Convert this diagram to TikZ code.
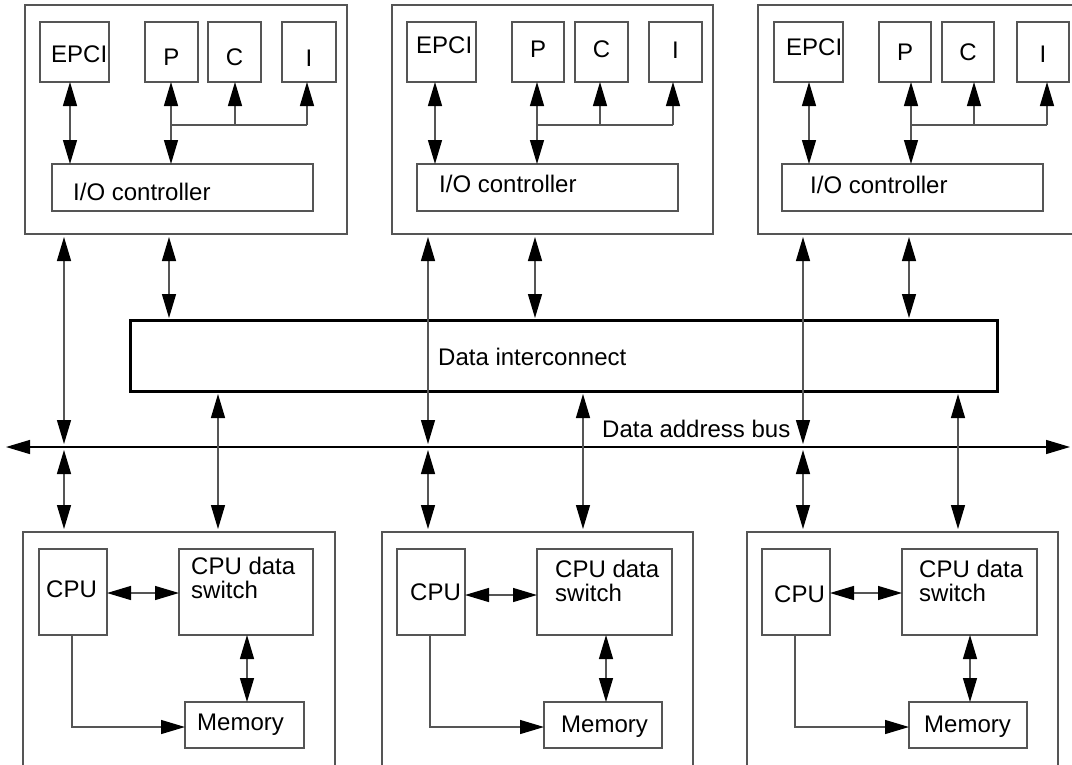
\documentclass[tikz,border=0pt]{standalone}
\usepackage{fontspec}
\setmainfont{Liberation Sans}
\usetikzlibrary{arrows.meta}
\definecolor{ln}{RGB}{85,85,85}
\newcommand\mybox[5]{\node[box, minimum width=#4pt-#2pt, minimum height=#5pt-#3pt] (#1) at (#2,#3) {};}
\begin{document}
\begin{tikzpicture}[x=1pt,y=-1pt,
  box/.style={draw=ln, line width=1.3pt, inner sep=0pt, outer sep=0pt, anchor=north west},
  txt/.style={inner sep=0pt, font=\fontsize{24}{25}\selectfont},
  tip/.tip={Triangle[length=24pt,width=14pt,color=black]},
  conn/.style={draw=ln, line width=1.3pt},
  dbl/.style={conn, tip-tip},
  one/.style={conn, -tip},
]
\useasboundingbox (0,0) rectangle (1072,764);
\clip (0,0) rectangle (1072,764);

% ---------------- top unit 1
\mybox{T1}{25}{5}{347}{234}
\mybox{E1}{40}{22}{109}{82}
\mybox{P1}{145}{22}{198}{82}
\mybox{C1}{208}{22}{261}{82}
\mybox{I1}{282}{22}{336}{82}
\mybox{IO1}{52}{164}{313}{211}
\node[txt, anchor=base west] (tE1) at (51,62) {EPCI};
\node[txt, anchor=base] (tP1) at (171.5,65) {P};
\node[txt, anchor=base] (tC1) at (234.5,65) {C};
\node[txt, anchor=base] (tI1) at (309,66) {I};
\node[txt, anchor=base west] (tIO1) at (73,200) {I/O controller};
\draw[dbl] (E1.south -| 70,0) -- (IO1.north -| 70,0);
\draw[dbl] (P1.south -| 171,0) -- (IO1.north -| 171,0);
\coordinate (J1) at (171,125);
\coordinate (K1) at (307,125);
\draw[conn] (J1) -- (K1);
\draw[one] (J1 -| 235,0) -- (C1.south -| 235,0);
\draw[one] (K1) -- (I1.south -| K1);

% ---------------- top unit 2
\mybox{T2}{392}{5}{713}{234}
\mybox{E2}{407}{22}{476}{82}
\mybox{P2}{512}{22}{564}{82}
\mybox{C2}{575}{22}{628}{82}
\mybox{I2}{649}{22}{702}{82}
\mybox{IO2}{417}{164}{678}{211}
\node[txt, anchor=base west] (tE2) at (416,53) {EPCI};
\node[txt, anchor=base] (tP2) at (538,57) {P};
\node[txt, anchor=base] (tC2) at (601.5,57) {C};
\node[txt, anchor=base] (tI2) at (675.5,58) {I};
\node[txt, anchor=base west] (tIO2) at (439,192) {I/O controller};
\draw[dbl] (E2.south -| 435,0) -- (IO2.north -| 435,0);
\draw[dbl] (P2.south -| 537,0) -- (IO2.north -| 537,0);
\coordinate (J2) at (537,125);
\coordinate (K2) at (673,125);
\draw[conn] (J2) -- (K2);
\draw[one] (J2 -| 600,0) -- (C2.south -| 600,0);
\draw[one] (K2) -- (I2.south -| K2);

% ---------------- top unit 3
\mybox{T3}{758}{5}{1100}{234}
\mybox{E3}{774}{22}{843}{82}
\mybox{P3}{879}{22}{931}{82}
\mybox{C3}{942}{22}{994}{82}
\mybox{I3}{1017}{22}{1069}{82}
\mybox{IO3}{782}{164}{1043}{211}
\node[txt, anchor=base west] (tE3) at (786,55) {EPCI};
\node[txt, anchor=base] (tP3) at (905,60) {P};
\node[txt, anchor=base] (tC3) at (968,60) {C};
\node[txt, anchor=base] (tI3) at (1043,62) {I};
\node[txt, anchor=base west] (tIO3) at (810,193) {I/O controller};
\draw[dbl] (E3.south -| 809,0) -- (IO3.north -| 809,0);
\draw[dbl] (P3.south -| 911,0) -- (IO3.north -| 911,0);
\coordinate (J3) at (911,125);
\coordinate (K3) at (1047,125);
\draw[conn] (J3) -- (K3);
\draw[one] (J3 -| 974,0) -- (C3.south -| 974,0);
\draw[one] (K3) -- (I3.south -| K3);

% ---------------- data interconnect and bus
\node[box, draw=black, line width=3pt, minimum width=867pt, minimum height=71pt] (DI) at (130,320) {};
\node[txt, anchor=base west] (tDI) at (438,365) {Data interconnect};
\coordinate (busL) at (6,447);
\coordinate (busR) at (1070,447);
\draw[dbl, draw=black] (busL) -- (busR);
\node[txt, anchor=base west] (tBus) at (602,437) {Data address bus};

% ---------------- bottom unit 1
\mybox{B1}{23}{532}{335}{800}
\mybox{CPU1}{39}{549}{107}{635}
\mybox{SW1}{179}{549}{313}{635}
\mybox{M1}{185}{702}{304}{748}
\node[txt, anchor=base west] (tCPU1) at (46,597) {CPU};
\node[txt, anchor=base west] (tSWa1) at (191,574) {CPU data};
\node[txt, anchor=base west] (tSWb1) at (191,598) {switch};
\node[txt, anchor=base west] (tM1) at (197,730) {Memory};
\draw[dbl] (CPU1.east |- 0,593) -- (SW1.west |- 0,593);
\draw[dbl] (SW1.south -| 247,0) -- (M1.north -| 247,0);
\draw[one] (CPU1.south -| 72,0) |- (M1.west |- 0,727);

% ---------------- bottom unit 2
\mybox{B2}{382}{532}{693}{800}
\mybox{CPU2}{397}{549}{465}{635}
\mybox{SW2}{537}{549}{672}{635}
\mybox{M2}{544}{702}{662}{748}
\node[txt, anchor=base west] (tCPU2) at (410,600) {CPU};
\node[txt, anchor=base west] (tSWa2) at (555,577) {CPU data};
\node[txt, anchor=base west] (tSWb2) at (555,601) {switch};
\node[txt, anchor=base west] (tM2) at (561,732) {Memory};
\draw[dbl] (CPU2.east |- 0,595) -- (SW2.west |- 0,595);
\draw[dbl] (SW2.south -| 606,0) -- (M2.north -| 606,0);
\draw[one] (CPU2.south -| 430,0) |- (M2.west |- 0,727);

% ---------------- bottom unit 3
\mybox{B3}{747}{532}{1058}{800}
\mybox{CPU3}{762}{549}{830}{635}
\mybox{SW3}{902}{549}{1037}{635}
\mybox{M3}{909}{702}{1027}{748}
\node[txt, anchor=base west] (tCPU3) at (774,602) {CPU};
\node[txt, anchor=base west] (tSWa3) at (919,577) {CPU data};
\node[txt, anchor=base west] (tSWb3) at (919,601) {switch};
\node[txt, anchor=base west] (tM3) at (924,732) {Memory};
\draw[dbl] (CPU3.east |- 0,593) -- (SW3.west |- 0,593);
\draw[dbl] (SW3.south -| 970,0) -- (M3.north -| 970,0);
\draw[one] (CPU3.south -| 795,0) |- (M3.west |- 0,727);

% ---------------- global connectors
\foreach \t/\b/\x in {T1/B1/64, T2/B2/428, T3/B3/803}{
  \draw[dbl, shorten <=3pt, shorten >=3pt] (\t.south -| \x,0) -- (busL -| \x,0);
  \draw[dbl, shorten <=3pt, shorten >=3pt] (busL -| \x,0) -- (\b.north -| \x,0);
}
\foreach \t/\x in {T1/169, T2/535, T3/909}{
  \draw[dbl, shorten <=3pt, shorten >=2pt] (\t.south -| \x,0) -- (DI.north -| \x,0);
}
\foreach \b/\x in {B1/218, B2/583, B3/958}{
  \draw[dbl, shorten <=3pt, shorten >=3pt] (DI.south -| \x,0) -- (\b.north -| \x,0);
}
\end{tikzpicture}
\end{document}
